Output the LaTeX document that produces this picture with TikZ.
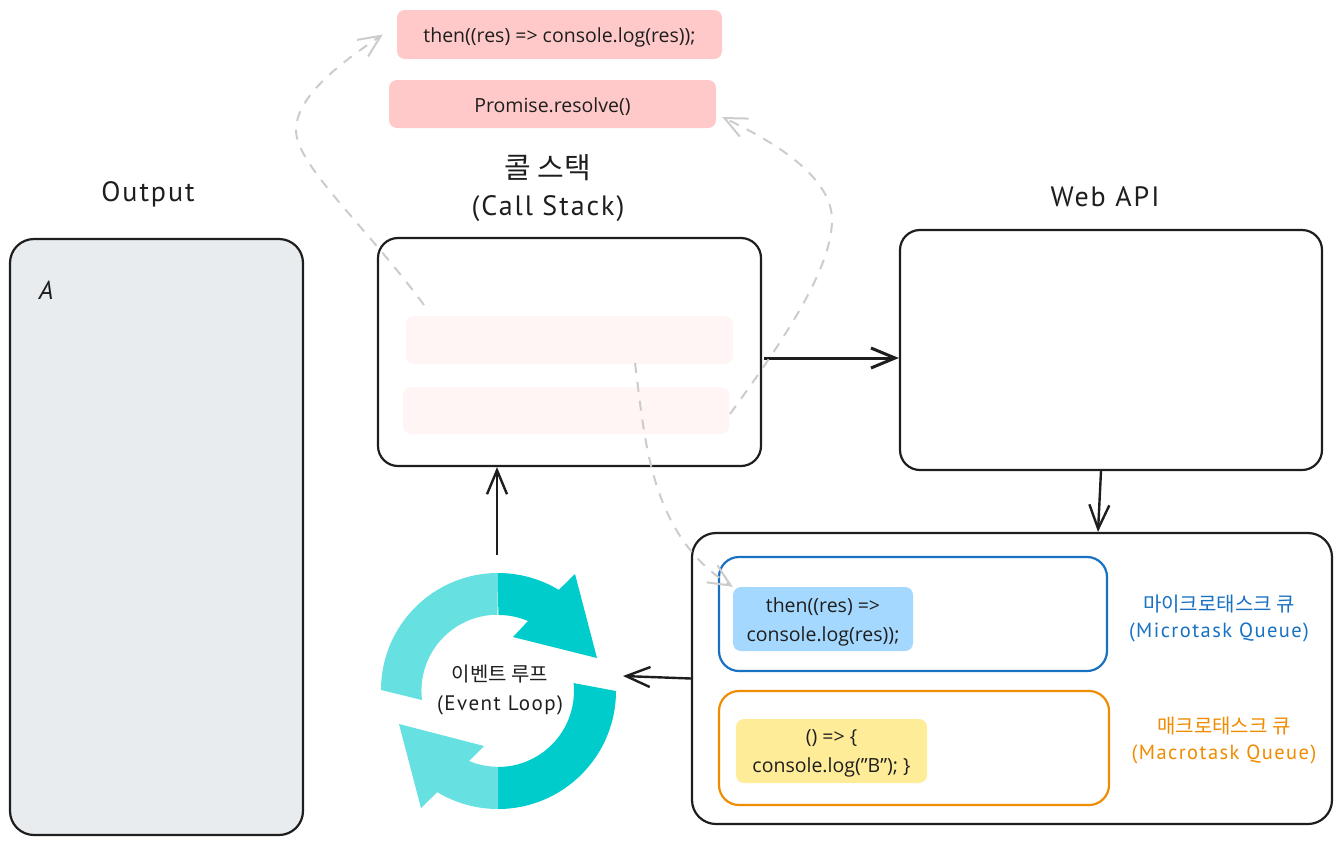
\documentclass[tikz,border=0pt]{standalone}
\usepackage{fontspec}
\setmainfont{Open Sans}
\newfontfamily\handfont[LetterSpace=7]{PT Sans}
\newfontfamily\kofont{Noto Sans CJK KR}
\usetikzlibrary{arrows.meta,positioning}
\definecolor{inkcol}{HTML}{1E1E1E}
\definecolor{paneltint}{HTML}{E9ECEF}
\definecolor{microcol}{HTML}{1971C2}
\definecolor{macrocol}{HTML}{F08C00}
\definecolor{pinkchip}{HTML}{FFC9C9}
\definecolor{palechip}{HTML}{FFF5F5}
\definecolor{bluechip}{HTML}{A5D8FF}
\definecolor{yellowchip}{HTML}{FFEC99}
\definecolor{ringdark}{HTML}{00CCCC}
\definecolor{ringlight}{HTML}{66E0E0}
\begin{document}
\begin{tikzpicture}[x=1pt,y=-1pt,
  framebox/.style={rectangle,draw=inkcol,line width=2.2pt,rounded corners=20pt,inner sep=0pt},
  queuebox/.style={rectangle,fill=none,line width=2.2pt,rounded corners=20pt,inner sep=0pt},
  chip/.style={rectangle,rounded corners=8pt,inner sep=0pt,align=center,text=inkcol,text depth=4pt,font=\fontsize{19.5}{29}\selectfont},
  title/.style={align=center,text=inkcol,font=\handfont\fontsize{28}{37}\selectfont},
  qlabel/.style={align=center,font=\handfont\fontsize{20.5}{26}\selectfont},
  solidarrow/.style={draw=inkcol,line width=2.4pt,-{Straight Barb[length=24pt,width=20pt]}},
  ghostarrow/.style={draw=black!20,line width=2pt,dash pattern=on 10pt off 9pt,-{Straight Barb[length=22pt,width=20pt]}}]
\useasboundingbox (0,0) rectangle (1342,844);
       \node [framebox,fill=paneltint,minimum width=293pt,minimum height=596pt,rounded corners=24pt] (outputbox) at (156.5,537) {};
       \node [framebox,fill=white,minimum width=383pt,minimum height=228pt] (stackbox) at (569.5,352) {};
       \node [framebox,fill=white,minimum width=422pt,minimum height=240pt] (webbox) at (1111,350) {};
       \node [framebox,fill=white,minimum width=640pt,minimum height=291pt,rounded corners=24pt] (queuebox) at (1012,678.5) {};
       \node [queuebox,draw=microcol,minimum width=388pt,minimum height=114pt] (microbox) at (913,614) {};
       \node [queuebox,draw=macrocol,minimum width=390pt,minimum height=114pt] (macrobox) at (914,748) {};
       \node [chip,text height=20pt,fill=pinkchip,minimum width=325pt,minimum height=49pt] (thenchip) at (559.5,34.5) {then((res) => console.log(res));};
       \node [chip,text height=20pt,fill=pinkchip,minimum width=327pt,minimum height=48pt] (promisechip) at (552.5,104) {Promise.resolve()};
       \node [chip,fill=palechip,minimum width=327pt,minimum height=48pt] (rowtop) at (569.5,340) {};
       \node [chip,fill=palechip,minimum width=326pt,minimum height=47pt] (rowbottom) at (566,410.5) {};
       \node [chip,text height=48pt,fill=bluechip,minimum width=180pt,minimum height=64pt] (microchip) at (823,619) {then((res) =>\\console.log(res));};
       \node [chip,text height=46pt,fill=yellowchip,minimum width=191pt,minimum height=64pt] (macrochip) at (831.5,751) {() => \{\\console.log("B"); \}};
       \node [title] (outputtitle) at (148,194) {Output};
       \node [title] (stacktitle) at (548,188) {{\kofont\fontsize{29}{37}\selectfont 콜 스택}\\(Call Stack)};
       \node [title] (webtitle) at (1105,197) {Web API};
       \node [title,font=\handfont\itshape\fontsize{26}{30}\selectfont] (outputtext) at (46,290) {A};
       \node [qlabel,text=inkcol,font=\handfont\fontsize{21}{29}\selectfont] (looplabel) at (500,690) {{\kofont\fontsize{20}{29}\selectfont 이벤트 루프}\\(Event Loop)};
       \node [qlabel,text=microcol] (microlabel) at (1219,618) {{\kofont\fontsize{20}{26}\selectfont 마이크로태스크 큐}\\(Microtask Queue)};
       \node [qlabel,text=macrocol] (macrolabel) at (1224,740) {{\kofont\fontsize{20}{26}\selectfont 매크로태스크 큐}\\(Macrotask Queue)};
\fill [ringdark] (498,573) arc[start angle=90,end angle=59,radius=118pt] -- (575,574) -- (597,658) -- (513,637) -- (528,621) arc[start angle=67,end angle=90,radius=76pt] -- cycle;
\fill [ringdark] (616,691) arc[start angle=0,end angle=-90,radius=118pt] -- (498,767) arc[start angle=-90,end angle=6,radius=76pt] -- cycle;
\fill [ringlight] (498,573) arc[start angle=90,end angle=180,radius=117pt] -- (422,700) arc[start angle=187,end angle=90,radius=76pt] -- cycle;
\fill [ringlight] (498,809) arc[start angle=-90,end angle=-121,radius=118pt] -- (421,808) -- (399,724) -- (484,746) -- (469,761) arc[start angle=-112.5,end angle=-90,radius=76pt] -- cycle;
\coordinate (looptop) at (497,555);
\coordinate (loopright) at (623,676);
\coordinate (ghostone) at (424,305);
\coordinate (ghosttwo) at (730,414);
\coordinate (ghostthree) at (635,363);
\draw [solidarrow,line width=3pt] ([xshift=2pt,yshift=-6pt]stackbox.east) -- ([yshift=-8pt]webbox.west);
\draw [solidarrow] (looptop) -- (looptop |- stackbox.south);
\draw [solidarrow] ([xshift=-10pt]webbox.south) -- ([xshift=86pt]queuebox.north);
\draw [solidarrow] (queuebox.west) -- (loopright);
\draw [ghostarrow] (ghostone) .. controls (365,225) and (296,165) .. (296,130) .. controls (296,95) and (345,60) .. ([xshift=-14pt]thenchip.west);
\draw [ghostarrow] (ghosttwo) .. controls (780,345) and (832,270) .. (832,220) .. controls (832,175) and (770,140) .. ([xshift=6pt,yshift=-13pt]promisechip.east);
\draw [ghostarrow] (ghostthree) .. controls (645,440) and (650,535) .. (microchip.north west);
\end{tikzpicture}
\end{document}
